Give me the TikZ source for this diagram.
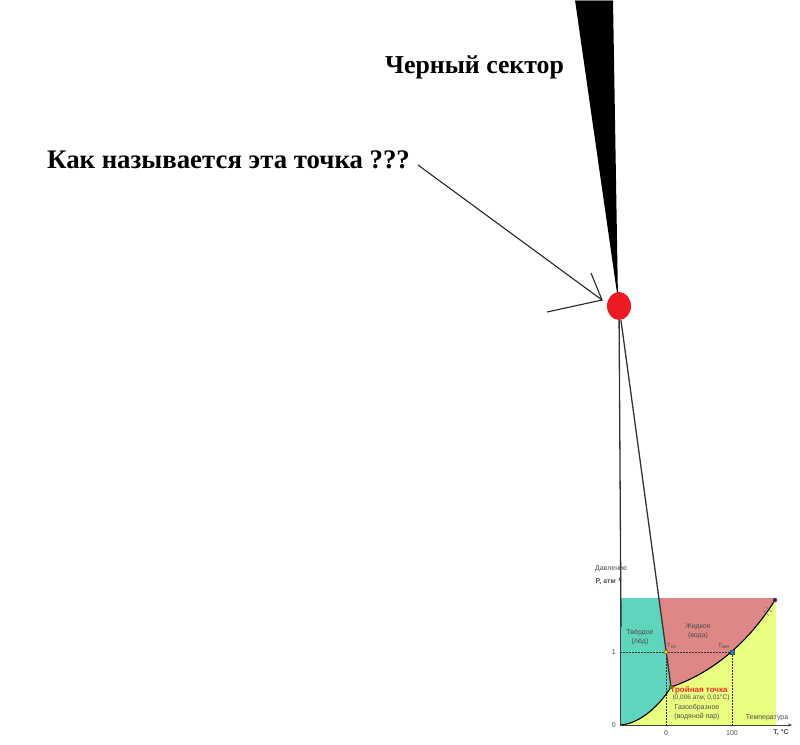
\documentclass[tikz,border=0pt]{standalone}
\usepackage{fontspec}
\setmainfont{Liberation Serif}
\newfontfamily\dsans{Liberation Sans}
\usetikzlibrary{shapes.geometric,arrows.meta}
\definecolor{solid1}{HTML}{5FD5BD}
\definecolor{liq}{HTML}{DE8787}
\definecolor{gas}{HTML}{E8FF80}
\definecolor{dotred}{HTML}{ED1C24}
\definecolor{lbl}{HTML}{4D4D4D}
\definecolor{trired}{HTML}{FF2A2A}
\begin{document}
\begin{tikzpicture}[x=1pt,y=-1pt,
 bigtxt/.style={inner sep=0pt, anchor=base west},
 lab/.style={font=\dsans\fontsize{7}{9}\selectfont, text=lbl, inner sep=0pt, align=center},
 conn/.style={draw=black!80, line width=1.3pt},
 curvestyle/.style={draw=black, line width=1.1pt},
 guide/.style={draw=black!80, line width=0.6pt, dash pattern=on 1.5pt off 1.5pt},
 axisline/.style={draw=black!75, line width=0.5pt},
 pt/.style={inner sep=0pt, minimum size=4pt, draw=black!70, line width=0.4pt}
]
\useasboundingbox (0,0) rectangle (800,744);
% black sector
\fill[black] (575,0) -- (613,0) -- (618,300) -- cycle;
\draw[black!50, line width=0.5pt] (575,0) -- (613,0);
% phase regions
\fill[gas] (620,598) rectangle (776,725);
\fill[solid1] (620,598) -- (658.7,598) -- (671,687) .. controls (660,705) and (640,724) .. (620,725) -- cycle;
\fill[liq] (658.7,598) -- (775,598) -- (775,600) .. controls (750,640) and (715,672) .. (671,687) -- cycle;
% named coordinates
\coordinate (triple) at (671,687);
\coordinate (crit) at (775,600);
\coordinate (orig) at (620,725);
\coordinate (leftend) at (621,627);
\coordinate (tip) at (602,300);
\coordinate (barbA) at (591,273);
\coordinate (barbB) at (547,312);
\coordinate (qstart) at (418,165);
\coordinate (yone) at (620,652);
\coordinate (xzero) at (666,725);
\coordinate (xhund) at (732,725);
\coordinate (xend) at (792,725);
\coordinate (ytop) at (620,577);
% guides
\draw[guide] (yone) -- (732,652);
\draw[guide] (666,652) -- (xzero);
\draw[guide] (732,652) -- (xhund);
% curves
\draw[curvestyle] (orig) .. controls (640,724) and (660,705) .. (triple);
\draw[curvestyle] (triple) .. controls (715,672) and (750,640) .. (crit);
% axes
\draw[axisline, -{Stealth[length=4pt,width=3pt]}] (orig) -- (xend);
\draw[axisline, -{Stealth[length=4pt,width=3pt]}] (orig) -- (ytop);
% break mark
\draw[black!60, line width=0.5pt] (763,610.5) -- (769,615.5);
\draw[black!60, line width=0.5pt] (766,607) -- (772,612);
% dot and connectors
\node[ellipse, fill=dotred, minimum width=24pt, minimum height=28pt, inner sep=0pt] (dot) at (619,306) {};
\draw[conn] (dot) -- (leftend);
\draw[conn] (dot) -- (triple);
% points
\node[pt, circle, fill=yellow!70!orange] (tpl) at (666,652) {};
\node[pt, rectangle, fill=cyan!70!blue, minimum size=4pt] (tkip) at (732,652) {};
\node[pt, circle, fill=green!70!black] (tr) at (triple) {};
\node[pt, circle, fill=violet!80!black] (cr) at (crit) {};
% big texts
\node[bigtxt, font=\fontsize{25.8}{31}\selectfont\bfseries] (sec) at (385,73) {Черный сектор};
\node[bigtxt, font=\fontsize{26.8}{32}\selectfont\bfseries] (q) at (47,168) {Как называется эта точка ???};
\draw[black!85, line width=1.1pt] (qstart) -- (tip);
\draw[black!85, line width=1.1pt] (barbA) -- (tip) -- (barbB);
% diagram labels
\node[lab] (davl) at (611,569) {Давление};
\node[lab, font=\dsans\fontsize{7}{9}\selectfont\bfseries, anchor=east] (patm) at (616,582) {P, атм};
\node[lab, anchor=east] (one) at (616,652) {1};
\node[lab, anchor=east] (zero) at (616,725) {0};
\node[lab, anchor=north] (x0) at (666,730) {0};
\node[lab, anchor=north] (x100) at (732,730) {100};
\node[lab, font=\dsans\fontsize{7}{9}\selectfont\bfseries, anchor=north] (tc) at (781,729) {T, °C};
\node[lab] (temp) at (767,718) {Температура};
\node[lab] (solid) at (640,637) {Твёрдое\\(лёд)};
\node[lab] (liquid) at (698,631) {Жидкое\\(вода)};
\node[lab] (gasl) at (697,712) {Газообразное\\(водяной пар)};
\node[lab, font=\dsans\fontsize{8}{9}\selectfont\bfseries, text=trired] (trl) at (699,690) {Тройная точка};
\node[lab, font=\dsans\fontsize{6.5}{8}\selectfont] (trv) at (701,698) {(0,006 атм; 0,01°C)};
\node[lab, font=\dsans\fontsize{6}{7}\selectfont] (tpll) at (672,646) {T\textsubscript{пл}};
\node[lab, font=\dsans\fontsize{6}{7}\selectfont] (tkipl) at (724,646) {T\textsubscript{кип}};
\end{tikzpicture}
\end{document}
